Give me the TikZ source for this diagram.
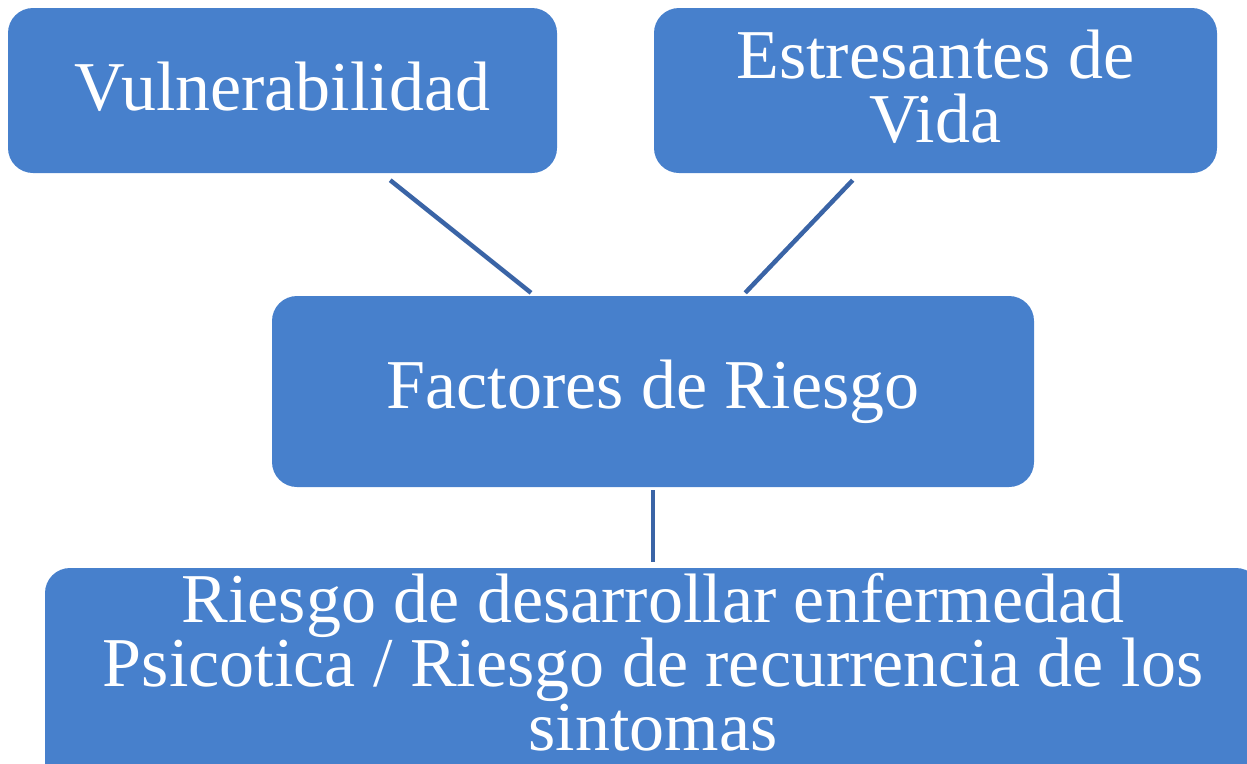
\documentclass[tikz,border=0pt]{standalone}
\usepackage{fontspec}
\setmainfont{Liberation Serif}
\usetikzlibrary{calc}
\definecolor{boxblue}{RGB}{71,128,204}
\definecolor{lineblue}{RGB}{58,100,166}
\tikzset{
	box/.style={fill=boxblue, rounded corners=25pt, text=white, align=center, inner sep=0pt, font=\fontsize{70}{64}\selectfont},
	link/.style={draw=lineblue, line width=4.5pt},
}

\begin{document}
\begin{tikzpicture}[x=1pt, y=-1pt]
		%%%%% START %%%%%
		\useasboundingbox (0,0) rectangle (1247,763);
		\clip (0,0) rectangle (1247,763);
		
		\node[box, minimum width=549pt, minimum height=165pt, text depth=8pt] (vuln) at (282.5, 90.5) {Vulnerabilidad};
		\node[box, minimum width=563pt, minimum height=165pt, text depth=8pt] (estres) at (935.5, 90.5) {Estresantes de\\Vida};
		
		\node[box, minimum width=762pt, minimum height=191pt] (factores) at (653, 391.5) {Factores de Riesgo};
		
		\node[box, minimum width=1216pt, minimum height=222pt, text depth=34pt] (riesgo) at (653, 679) {Riesgo de desarrollar enfermedad\\Psicotica / Riesgo de recurrencia de los\\sintomas};
		
		\draw[link] ($(vuln.south west)!0.696!(vuln.south east)+(0,7)$) -- ($(factores.north west)!0.34!(factores.north east)+(0,-3)$);
		\draw[link] ($(estres.south west)!0.353!(estres.south east)+(0,7)$) -- ($(factores.north west)!0.621!(factores.north east)+(0,-3)$);
		\draw[link] ($(factores.south)+(0,3)$) -- ($(riesgo.north)+(0,-6)$);
		%%%%% END %%%%%
	\end{tikzpicture}
\end{document}
